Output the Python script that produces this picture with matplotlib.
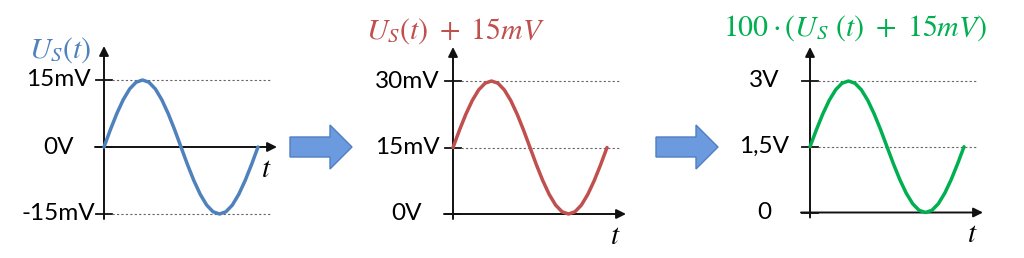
import numpy as np
import matplotlib.pyplot as plt
from matplotlib.patches import FancyArrow

plt.rcParams['font.family'] = ['Lato', 'DejaVu Sans']
plt.rcParams['mathtext.fontset'] = 'stix'

# === Données lues sur le schéma ===
# une période de U_S(t), relevée tous les 15°
phase = np.linspace(0, 1, 25)
us_mV = [0, 3.9, 7.5, 10.6, 13.0, 14.5, 15.0, 14.5, 13.0, 10.6, 7.5, 3.9, 0,
         -3.9, -7.5, -10.6, -13.0, -14.5, -15.0, -14.5, -13.0, -10.6, -7.5, -3.9, 0]
offset_mV = 15
gain = 100

ticks_1 = [15, 0, -15]
labels_1 = ["15mV", "0V", "-15mV"]
ticks_2 = [30, 15, 0]
labels_2 = ["30mV", "15mV", "0V"]
ticks_3 = [3, 1.5, 0]
labels_3 = ["3V", "1,5V", "0"]

titles = [r"$U_S(t)$", r"$U_S(t)\ +\ 15mV$", r"$100 \cdot (U_S\ (t)\ +\ 15mV)$"]
colors = ["#4F81BD", "#C0504D", "#00B050"]

courbe_1 = np.array(us_mV)
courbe_2 = courbe_1 + offset_mV
courbe_3 = gain * courbe_2 / 1000  # mV -> V

# === Mise en page (pixels) ===
W, H = 1024, 258
P = 154  # largeur d'une période
layout = [
    dict(x0=104, r_top=80, r_bot=214, title_xy=(60, 50)),
    dict(x0=453, r_top=81, r_bot=214, title_xy=(456, 31)),
    dict(x0=810, r_top=81, r_bot=212.5, title_xy=(855, 28)),
]
AX = '#111111'


def panneau(fig, lay, y, ticks, labels, color, title):
    ax = fig.add_axes([0, 0, 1, 1])
    ax.set_axis_off()
    ax.patch.set_alpha(0)
    x0 = lay["x0"]
    v_top, v_bot = max(ticks), min(ticks)
    s = (lay["r_bot"] - lay["r_top"]) / (v_top - v_bot)  # px par unité
    ax.set_xlim(-x0 / P, (W - x0) / P)
    ax.set_ylim(v_bot - (H - lay["r_bot"]) / s, v_top + lay["r_top"] / s)

    def px(n):
        return n / P

    def py(n):
        return n / s

    for v, lab in zip(ticks, labels):
        ax.plot([px(-8), px(8)], [v, v], color=AX, lw=1.3)
        if v != 0:
            ax.plot([px(8), px(168)], [v, v], color='#666666', lw=0.8,
                    linestyle=(0, (2, 2)))
        ax.text(px(-46), v, lab, ha='center', va='center', fontsize=17.5)

    arrow = dict(arrowstyle='-|>', color=AX, lw=1.4, mutation_scale=14,
                 shrinkA=0, shrinkB=0)
    ax.annotate('', xy=(0, v_top + py(34)), xytext=(0, v_bot - py(5)),
                arrowprops=arrow)
    ax.annotate('', xy=(px(173), 0), xytext=(px(-9), 0), arrowprops=arrow)

    ax.plot(phase, y, color=color, lw=2.5, solid_capstyle='round', zorder=3)

    ax.annotate('$t$', xy=(px(162), 0), xytext=(0, -22),
                textcoords='offset pixels', ha='center', va='center',
                fontsize=21)

    cx, cy = lay["title_xy"]
    fig.text(cx / W, 1 - cy / H, title, color=color, fontsize=21.5,
             ha='center', va='center')


fig = plt.figure(figsize=(W / 100, H / 100), dpi=100)

panneau(fig, layout[0], courbe_1, ticks_1, labels_1, colors[0], titles[0])
panneau(fig, layout[1], courbe_2, ticks_2, labels_2, colors[1], titles[1])
panneau(fig, layout[2], courbe_3, ticks_3, labels_3, colors[2], titles[2])

# flèches bleues entre les graphes
deco = fig.add_axes([0, 0, 1, 1])
deco.set_axis_off()
deco.patch.set_alpha(0)
deco.set_xlim(0, W)
deco.set_ylim(H, 0)
for xa in [290, 656]:
    deco.add_patch(FancyArrow(xa, 147, 62, 0, width=20, head_width=44,
                              head_length=22, length_includes_head=True,
                              fc='#6B9BDE', ec='#4F7FC2', lw=1))

fig.savefig('out.png', dpi=100)
